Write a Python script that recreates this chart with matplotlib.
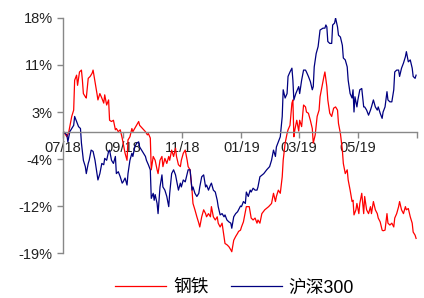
import matplotlib
matplotlib.use("Agg")
import matplotlib.pyplot as plt
import pandas as pd

plt.rcParams['font.family'] = ['Liberation Sans', 'Noto Sans CJK SC']
plt.rcParams['axes.unicode_minus'] = False

# 钢铁 (steel) relative return, %
steel_dates = [
    '2018-07-02', '2018-07-05', '2018-07-07', '2018-07-10', '2018-07-12', '2018-07-13', '2018-07-15',
    '2018-07-16', '2018-07-18', '2018-07-20', '2018-07-21', '2018-07-22', '2018-07-24', '2018-07-25',
    '2018-07-27', '2018-07-29', '2018-07-31', '2018-08-01', '2018-08-03', '2018-08-05', '2018-08-06',
    '2018-08-08', '2018-08-10', '2018-08-12', '2018-08-13', '2018-08-15', '2018-08-17', '2018-08-18',
    '2018-08-20', '2018-08-22', '2018-08-24', '2018-08-25', '2018-08-27', '2018-08-29', '2018-08-31',
    '2018-09-01', '2018-09-03', '2018-09-05', '2018-09-06', '2018-09-08', '2018-09-10', '2018-09-11',
    '2018-09-14', '2018-09-17', '2018-09-18', '2018-09-21', '2018-09-24', '2018-09-26', '2018-09-27',
    '2018-09-29', '2018-09-30', '2018-10-02', '2018-10-04', '2018-10-06', '2018-10-07', '2018-10-09',
    '2018-10-11', '2018-10-12', '2018-10-14', '2018-10-16', '2018-10-18', '2018-10-19', '2018-10-21',
    '2018-10-23', '2018-10-25', '2018-10-26', '2018-10-28', '2018-10-30', '2018-10-31', '2018-11-02',
    '2018-11-04', '2018-11-06', '2018-11-07', '2018-11-09', '2018-11-11', '2018-11-12', '2018-11-14',
    '2018-11-16', '2018-11-18', '2018-11-19', '2018-11-21', '2018-11-23', '2018-11-25', '2018-11-26',
    '2018-11-28', '2018-11-30', '2018-12-01', '2018-12-03', '2018-12-05', '2018-12-07', '2018-12-08',
    '2018-12-10', '2018-12-12', '2018-12-14', '2018-12-15', '2018-12-17', '2018-12-19', '2018-12-21',
    '2018-12-22', '2018-12-24', '2018-12-26', '2018-12-28', '2018-12-29', '2018-12-31', '2019-01-01',
    '2019-01-03', '2019-01-06', '2019-01-09', '2019-01-11', '2019-01-13', '2019-01-15', '2019-01-17',
    '2019-01-18', '2019-01-20', '2019-01-22', '2019-01-25', '2019-01-29', '2019-02-01', '2019-02-03',
    '2019-02-05', '2019-02-06', '2019-02-08', '2019-02-10', '2019-02-12', '2019-02-13', '2019-02-15',
    '2019-02-17', '2019-02-18', '2019-02-20', '2019-02-22', '2019-02-23', '2019-02-24', '2019-02-25',
    '2019-02-27', '2019-03-01', '2019-03-02', '2019-03-04', '2019-03-06', '2019-03-08', '2019-03-09',
    '2019-03-11', '2019-03-13', '2019-03-15', '2019-03-16', '2019-03-18', '2019-03-20', '2019-03-22',
    '2019-03-23', '2019-03-25', '2019-03-27', '2019-03-28', '2019-03-30', '2019-03-31', '2019-04-02',
    '2019-04-04', '2019-04-06', '2019-04-08', '2019-04-10', '2019-04-11', '2019-04-13', '2019-04-15',
    '2019-04-16', '2019-04-18', '2019-04-20', '2019-04-21', '2019-04-23', '2019-04-25', '2019-04-26',
    '2019-04-27', '2019-04-29', '2019-04-30', '2019-05-02', '2019-05-03', '2019-05-05', '2019-05-07',
    '2019-05-08', '2019-05-10', '2019-05-12', '2019-05-14', '2019-05-15', '2019-05-17', '2019-05-19',
    '2019-05-21', '2019-05-22', '2019-05-24', '2019-05-26', '2019-05-27', '2019-05-29', '2019-05-31',
    '2019-06-01', '2019-06-03', '2019-06-05', '2019-06-07', '2019-06-08', '2019-06-10', '2019-06-12',
    '2019-06-13', '2019-06-15', '2019-06-17', '2019-06-19', '2019-06-20', '2019-06-22', '2019-06-24',
    '2019-06-26', '2019-06-27', '2019-06-29', '2019-06-30',
]
steel_vals = [
    0.0, -0.7, 0.1, 2.5, 3.5, 8.2, 9.0,
    7.4, 9.5, 9.8, 8.2, 6.1, 5.6, 5.4,
    8.5, 8.8, 9.3, 9.8, 8.0, 6.1, 5.1,
    6.1, 5.4, 4.6, 5.9, 4.3, 5.1, 1.9,
    1.7, 1.9, 0.4, 0.6, 0.1, 0.4, -0.9,
    -1.7, -3.3, -4.4, -1.2, -0.7, 0.6, 0.1,
    0.9, 1.7, 1.1, 0.6, 0.1, -0.4, -0.2,
    -0.9, -5.9, -3.8, -4.4, -5.9, -6.5, -4.4,
    -3.8, -5.4, -4.1, -4.9, -3.8, -4.4, -2.8,
    -3.8, -2.5, -3.8, -5.1, -5.4, -4.4, -3.3,
    -2.8, -4.4, -5.4, -5.9, -9.1, -11.2, -12.2,
    -13.3, -14.3, -14.9, -13.3, -12.2, -12.8, -13.3,
    -12.8, -13.3, -11.7, -13.3, -13.8, -13.3, -14.3,
    -14.9, -14.3, -16.4, -17.5, -17.7, -18.0, -18.5,
    -18.8, -17.0, -16.4, -15.9, -15.6, -15.4, -14.9,
    -14.1, -11.7, -11.7, -13.5, -13.8, -13.5, -14.3,
    -13.8, -14.3, -12.8, -12.2, -11.7, -11.2, -9.6,
    -10.9, -10.1, -9.1, -9.6, -7.0, -4.4, -1.7,
    -0.2, 0.4, 1.1, 4.6, 5.1, -0.7, 0.4,
    1.9, 0.2, 1.9, 0.9, 4.3, 4.0, 3.2,
    3.0, 1.9, 0.6, -1.7, -0.4, 2.5, 3.5,
    5.6, 7.2, 8.8, 9.5, 7.2, 5.1, 3.0,
    2.5, 3.8, 4.0, 3.5, 1.4, -0.2, -2.8,
    -4.9, -6.5, -5.9, -7.5, -9.1, -10.9, -10.7,
    -13.0, -12.2, -11.2, -12.8, -11.2, -9.6, -12.8,
    -10.1, -12.2, -12.8, -11.7, -12.8, -10.9, -12.2,
    -12.8, -13.5, -14.1, -15.4, -15.5, -15.4, -12.8,
    -14.3, -14.6, -14.3, -14.9, -13.5, -12.8, -11.7,
    -10.9, -12.2, -12.8, -11.7, -12.2, -12.0, -13.3,
    -14.3, -15.7, -16.2, -16.7,
]

# 沪深300 (CSI 300) return, %
csi_dates = [
    '2018-07-02', '2018-07-05', '2018-07-06', '2018-07-08', '2018-07-10', '2018-07-12', '2018-07-13',
    '2018-07-15', '2018-07-17', '2018-07-19', '2018-07-20', '2018-07-22', '2018-07-24', '2018-07-25',
    '2018-07-27', '2018-07-28', '2018-07-30', '2018-08-01', '2018-08-03', '2018-08-05', '2018-08-06',
    '2018-08-08', '2018-08-10', '2018-08-12', '2018-08-13', '2018-08-15', '2018-08-17', '2018-08-18',
    '2018-08-20', '2018-08-22', '2018-08-24', '2018-08-25', '2018-08-27', '2018-08-29', '2018-08-31',
    '2018-09-01', '2018-09-03', '2018-09-05', '2018-09-06', '2018-09-08', '2018-09-10', '2018-09-11',
    '2018-09-13', '2018-09-15', '2018-09-17', '2018-09-18', '2018-09-20', '2018-09-22', '2018-09-24',
    '2018-09-25', '2018-09-27', '2018-09-29', '2018-09-30', '2018-10-02', '2018-10-03', '2018-10-04',
    '2018-10-06', '2018-10-07', '2018-10-09', '2018-10-11', '2018-10-12', '2018-10-14', '2018-10-16',
    '2018-10-18', '2018-10-19', '2018-10-21', '2018-10-23', '2018-10-25', '2018-10-26', '2018-10-28',
    '2018-10-30', '2018-10-31', '2018-11-02', '2018-11-04', '2018-11-06', '2018-11-07', '2018-11-09',
    '2018-11-11', '2018-11-12', '2018-11-14', '2018-11-16', '2018-11-18', '2018-11-19', '2018-11-21',
    '2018-11-23', '2018-11-25', '2018-11-26', '2018-11-28', '2018-11-30', '2018-12-01', '2018-12-03',
    '2018-12-05', '2018-12-07', '2018-12-08', '2018-12-10', '2018-12-12', '2018-12-14', '2018-12-15',
    '2018-12-17', '2018-12-19', '2018-12-21', '2018-12-22', '2018-12-24', '2018-12-26', '2018-12-28',
    '2018-12-29', '2018-12-31', '2019-01-01', '2019-01-03', '2019-01-05', '2019-01-06', '2019-01-08',
    '2019-01-10', '2019-01-11', '2019-01-13', '2019-01-15', '2019-01-17', '2019-01-18', '2019-01-20',
    '2019-01-24', '2019-01-27', '2019-01-30', '2019-02-01', '2019-02-03', '2019-02-05', '2019-02-06',
    '2019-02-08', '2019-02-10', '2019-02-12', '2019-02-13', '2019-02-15', '2019-02-17', '2019-02-18',
    '2019-02-20', '2019-02-22', '2019-02-23', '2019-02-24', '2019-02-26', '2019-03-01', '2019-03-02',
    '2019-03-04', '2019-03-06', '2019-03-08', '2019-03-09', '2019-03-11', '2019-03-13', '2019-03-15',
    '2019-03-16', '2019-03-17', '2019-03-19', '2019-03-21', '2019-03-23', '2019-03-24', '2019-03-26',
    '2019-03-28', '2019-03-29', '2019-03-30', '2019-03-31', '2019-04-02', '2019-04-04', '2019-04-05',
    '2019-04-07', '2019-04-08', '2019-04-10', '2019-04-11', '2019-04-13', '2019-04-15', '2019-04-16',
    '2019-04-18', '2019-04-20', '2019-04-21', '2019-04-23', '2019-04-25', '2019-04-26', '2019-04-27',
    '2019-04-28', '2019-04-30', '2019-05-01', '2019-05-03', '2019-05-05', '2019-05-07', '2019-05-08',
    '2019-05-10', '2019-05-12', '2019-05-14', '2019-05-15', '2019-05-17', '2019-05-19', '2019-05-21',
    '2019-05-22', '2019-05-24', '2019-05-26', '2019-05-27', '2019-05-29', '2019-05-31', '2019-06-01',
    '2019-06-03', '2019-06-05', '2019-06-07', '2019-06-08', '2019-06-10', '2019-06-12', '2019-06-13',
    '2019-06-15', '2019-06-17', '2019-06-19', '2019-06-20', '2019-06-22', '2019-06-24', '2019-06-26',
    '2019-06-27', '2019-06-29', '2019-06-30',
]
csi_vals = [
    0.0, -0.4, -1.5, 0.1, 0.6, 1.1, 2.5,
    1.7, 0.9, 0.6, -1.7, -4.4, -5.4, -6.5,
    -4.9, -4.4, -2.8, -3.0, -4.4, -6.5, -7.5,
    -6.5, -4.9, -5.1, -4.1, -4.4, -3.0, -2.8,
    -4.4, -4.9, -3.8, -6.5, -6.2, -7.0, -8.0,
    -7.8, -7.2, -8.3, -6.5, -4.4, -3.3, -3.8,
    -2.3, -1.7, -1.5, -2.3, -2.8, -3.3, -3.8,
    -4.4, -5.1, -5.9, -10.4, -9.6, -10.7, -9.8,
    -11.2, -12.8, -8.6, -6.7, -8.6, -9.1, -10.1,
    -11.7, -9.6, -6.5, -5.9, -6.7, -7.5, -9.1,
    -8.0, -8.6, -7.5, -7.8, -6.5, -5.9, -5.9,
    -9.1, -8.6, -9.6, -10.1, -9.6, -8.6, -7.0,
    -6.7, -8.6, -8.3, -9.1, -8.3, -8.0, -9.1,
    -9.4, -10.7, -11.7, -13.0, -12.8, -13.3, -13.0,
    -13.8, -14.1, -14.3, -15.1, -13.3, -12.8, -12.5,
    -12.2, -11.6, -11.7, -10.9, -11.2, -9.4, -10.1,
    -9.1, -9.4, -8.8, -9.1, -9.1, -8.6, -7.0,
    -6.5, -5.9, -5.4, -4.4, -2.8, -3.8, -2.3,
    -1.5, -0.7, 2.5, 6.7, 5.4, 6.1, 8.8,
    9.5, 10.1, 8.2, 5.1, 6.1, 7.2, 6.1,
    8.2, 9.8, 9.8, 9.5, 8.8, 8.0, 6.7,
    7.2, 10.3, 12.4, 13.5, 16.1, 16.2, 16.4,
    16.4, 16.9, 16.6, 14.3, 14.0, 14.0, 16.9,
    17.2, 18.0, 16.6, 15.3, 15.0, 13.7, 11.7,
    11.4, 10.3, 8.2, 6.1, 5.4, 6.7, 3.2,
    5.6, 4.0, 5.1, 6.7, 6.9, 4.0, 4.0,
    3.5, 2.7, 3.5, 4.0, 5.1, 4.0, 3.5,
    4.0, 3.0, 2.2, 3.2, 4.0, 6.4, 5.1,
    4.8, 4.8, 6.7, 9.5, 9.8, 9.8, 8.8,
    10.1, 10.9, 11.9, 12.7, 11.1, 11.4, 10.1,
    8.8, 8.5, 9.0,
]

tick_dates = ['2018-07-01', '2018-09-01', '2018-11-01', '2019-01-01', '2019-03-01', '2019-05-01', '2019-07-01']
tick_labels = ['07/18', '09/18', '11/18', '01/19', '03/19', '05/19', '']
y_ticks = [-19, -11.6, -4.2, 3.2, 10.6, 18]
y_labels = ['-19%', '-12%', '-4%', '3%', '11%', '18%']

fig = plt.figure(figsize=(4.24, 2.98), dpi=100)
ax = fig.add_axes([0.1486, 0.151, 0.835, 0.7886])

ax.plot(pd.to_datetime(steel_dates), steel_vals, color='#FF0000', lw=0.9, label='钢铁')
ax.plot(pd.to_datetime(csi_dates), csi_vals, color='#000080', lw=0.9, label='沪深300')

ax.set_xlim(pd.Timestamp('2018-07-01'), pd.Timestamp('2019-07-01'))
ax.set_ylim(-19, 18)
ax.set_xticks(pd.to_datetime(tick_dates))
ax.set_xticklabels(tick_labels)
ax.set_yticks(y_ticks)
ax.set_yticklabels(y_labels)

for s in ['top', 'right']:
    ax.spines[s].set_visible(False)
ax.spines['bottom'].set_position(('data', 0))
ax.spines['left'].set_color('#888888')
ax.spines['bottom'].set_color('#888888')
ax.spines['left'].set_linewidth(1.0)
ax.spines['bottom'].set_linewidth(1.0)
ax.tick_params(axis='both', colors='#888888', labelcolor='#222222', labelsize=10.5, length=4, width=1.0)
ax.tick_params(axis='x', pad=2)

fig.legend(loc='center', bbox_to_anchor=(234.5 / 424, 1 - 288 / 298), ncol=2, frameon=False,
           fontsize=12.8, handlelength=2.87, columnspacing=1.24, handletextpad=0.4,
           borderpad=0, borderaxespad=0)

fig.savefig('out.png', dpi=100)
